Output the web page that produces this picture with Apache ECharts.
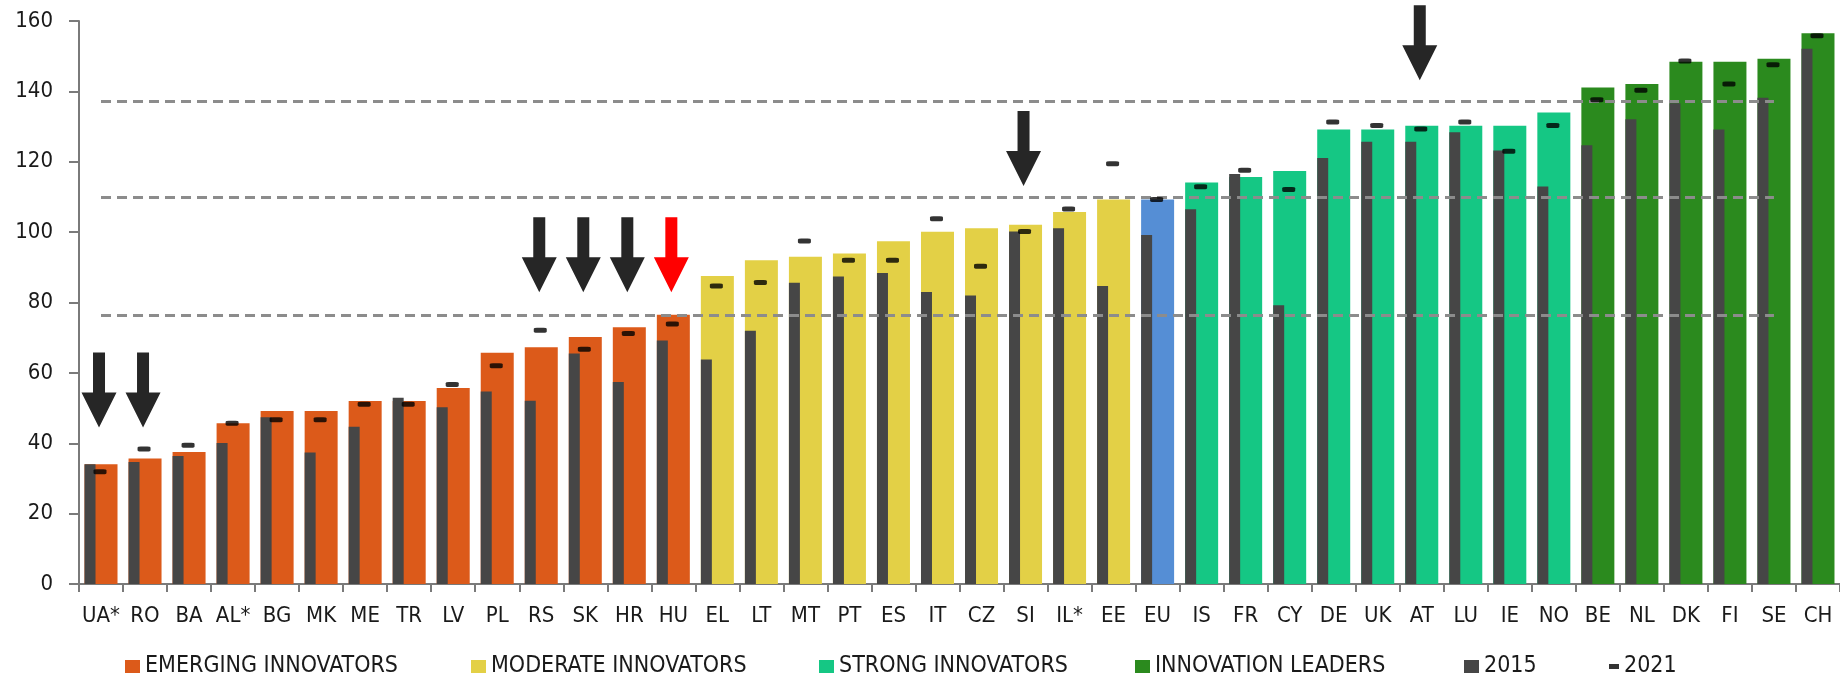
<!DOCTYPE html>
<html>
<head>
<meta charset="utf-8">
<script src="https://cdn.jsdelivr.net/npm/echarts@6/dist/echarts.min.js"></script>
<style>
html,body{margin:0;padding:0;background:#fff;}
#chart{width:1840px;height:679px;}
</style>
</head>
<body>
<div id="chart"></div>
<script>
const categories = ['UA*','RO','BA','AL*','BG','MK','ME','TR','LV','PL','RS','SK','HR','HU','EL','LT','MT','PT','ES','IT','CZ','SI','IL*','EE','EU','IS','FR','CY','DE','UK','AT','LU','IE','NO','BE','NL','DK','FI','SE','CH'];
const group = ['E','E','E','E','E','E','E','E','E','E','E','E','E','E','M','M','M','M','M','M','M','M','M','M','EU','S','S','S','S','S','S','S','S','S','L','L','L','L','L','L'];
const values2022 = [34.0,35.7,37.5,45.7,49.2,49.2,52.0,52.0,55.7,65.7,67.3,70.2,73.0,76.5,87.5,92.0,93.0,93.9,97.4,100.1,101.1,102.1,105.7,109.3,109.3,114.1,115.7,117.4,129.2,129.2,130.2,130.2,130.2,134.0,141.1,142.1,148.4,148.4,149.3,156.5];
const values2015 = [34.0,34.7,36.4,40.1,47.4,37.4,44.7,52.9,50.2,54.7,52.1,65.5,57.4,69.2,63.8,72.0,85.6,87.4,88.4,83.0,82.0,100.2,101.1,84.7,99.2,106.5,116.5,79.2,121.1,125.7,125.7,128.4,123.2,113.0,124.7,132.1,136.6,129.2,138.2,152.1];
const values2021 = [31.9,38.4,39.4,45.7,46.7,46.7,51.1,51.1,56.7,62.0,72.1,66.7,71.2,73.9,84.7,85.7,97.5,92.0,92.0,103.8,90.3,100.2,106.6,119.4,109.3,112.9,117.6,112.1,131.3,130.3,129.3,131.3,123.0,130.3,137.6,140.3,148.6,142.1,147.6,155.8];
const thresholds = [76.5, 110.0, 137.2];
const arrowsBlack = [['UA*',55.1],['RO',55.1],['RS',93.6],['SK',93.6],['HR',93.6],['SI',123.8],['AT',153.8]];
const arrowsRed = [['HU',93.6]];
const groupNames = {E:'EMERGING INNOVATORS', M:'MODERATE INNOVATORS', S:'STRONG INNOVATORS', L:'INNOVATION LEADERS', EU:'EU'};
const groupColors = {E:'#DC5A1A', M:'#E3D046', S:'#15C784', L:'#2B8A1E', EU:'#558ED5'};

const FONT = "'DejaVu Sans Condensed','DejaVu Sans',sans-serif";
const TXT = '#1a1a1a';
const arrowPath = 'path://M11.5,0 L23.5,0 L23.5,40 L35,40 L17.5,75 L0,40 L11.5,40 Z';

const groupSeries = ['E','M','S','L','EU'].map(g => ({
  name: groupNames[g],
  type: 'bar',
  stack: 'total',
  barWidth: 33,
  barGap: '-100%',
  itemStyle: {color: groupColors[g]},
  data: values2022.map((v, i) => group[i] === g ? v : null),
  z: 2,
  silent: true
}));

const option = {
  animation: false,
  grid: {left: 79, right: 0, top: 21, bottom: 95, containLabel: false},
  xAxis: {
    type: 'category',
    data: categories,
    axisLine: {lineStyle: {color: '#7a7a7a', width: 2}},
    axisTick: {show: true, length: 8, lineStyle: {color: '#7a7a7a', width: 2}},
    axisLabel: {fontFamily: FONT, fontSize: 22, color: TXT, margin: 21, interval: 0}
  },
  yAxis: {
    type: 'value', min: 0, max: 160, interval: 20,
    splitLine: {show: false},
    axisLine: {show: true, lineStyle: {color: '#7a7a7a', width: 2}},
    axisTick: {show: true, length: 10, lineStyle: {color: '#7a7a7a', width: 2}},
    axisLabel: {fontFamily: FONT, fontSize: 22, color: TXT, margin: 26}
  },
  legend: [
    {name:'EMERGING INNOVATORS', left:125},
    {name:'MODERATE INNOVATORS', left:471},
    {name:'STRONG INNOVATORS', left:819},
    {name:'INNOVATION LEADERS', left:1135},
    {name:'2015', left:1464},
    {name:'2021', left:1609, w:10, h:5}
  ].map(l => ({
    data: [l.name], left: l.left, top: 655, padding: 0,
    icon: 'rect', itemWidth: l.w || 15, itemHeight: l.h || 13,
    textStyle: {fontFamily: FONT, fontSize: 23, color: TXT},
    selectedMode: false
  })),
  series: [
    {
      name: '2015', type: 'bar', barWidth: 11, barGap: '-100%',
      itemStyle: {color: '#464646'}, data: values2015, z: 3, silent: true
    },
    ...groupSeries,
    {
      name: '2021', type: 'scatter', symbol: 'roundRect', symbolSize: [13, 5], symbolOffset: [-1, 0],
      itemStyle: {color: '#000'}, data: values2021, z: 5, silent: true,
      markLine: {
        silent: true, symbol: 'none', label: {show: false},
        lineStyle: {color: '#8c8c8c', width: 3, type: [10, 6]},
        data: thresholds.map(t => [{coord: ['UA*', t]}, {coord: ['SE', t]}])
      },
      markPoint: {
        silent: true, label: {show: false},
        data: arrowsBlack.map(a => ({coord: a, symbol: arrowPath, symbolSize: [35, 75], symbolOffset: [-2, 0], itemStyle: {color: '#262626'}}))
          .concat(arrowsRed.map(a => ({coord: a, symbol: arrowPath, symbolSize: [35, 75], symbolOffset: [-2, 0], itemStyle: {color: '#ff0000'}})))
      }
    }
  ]
};

const chart = echarts.init(document.getElementById('chart'), null, {renderer: 'canvas'});
chart.setOption(option);
</script>
</body>
</html>
